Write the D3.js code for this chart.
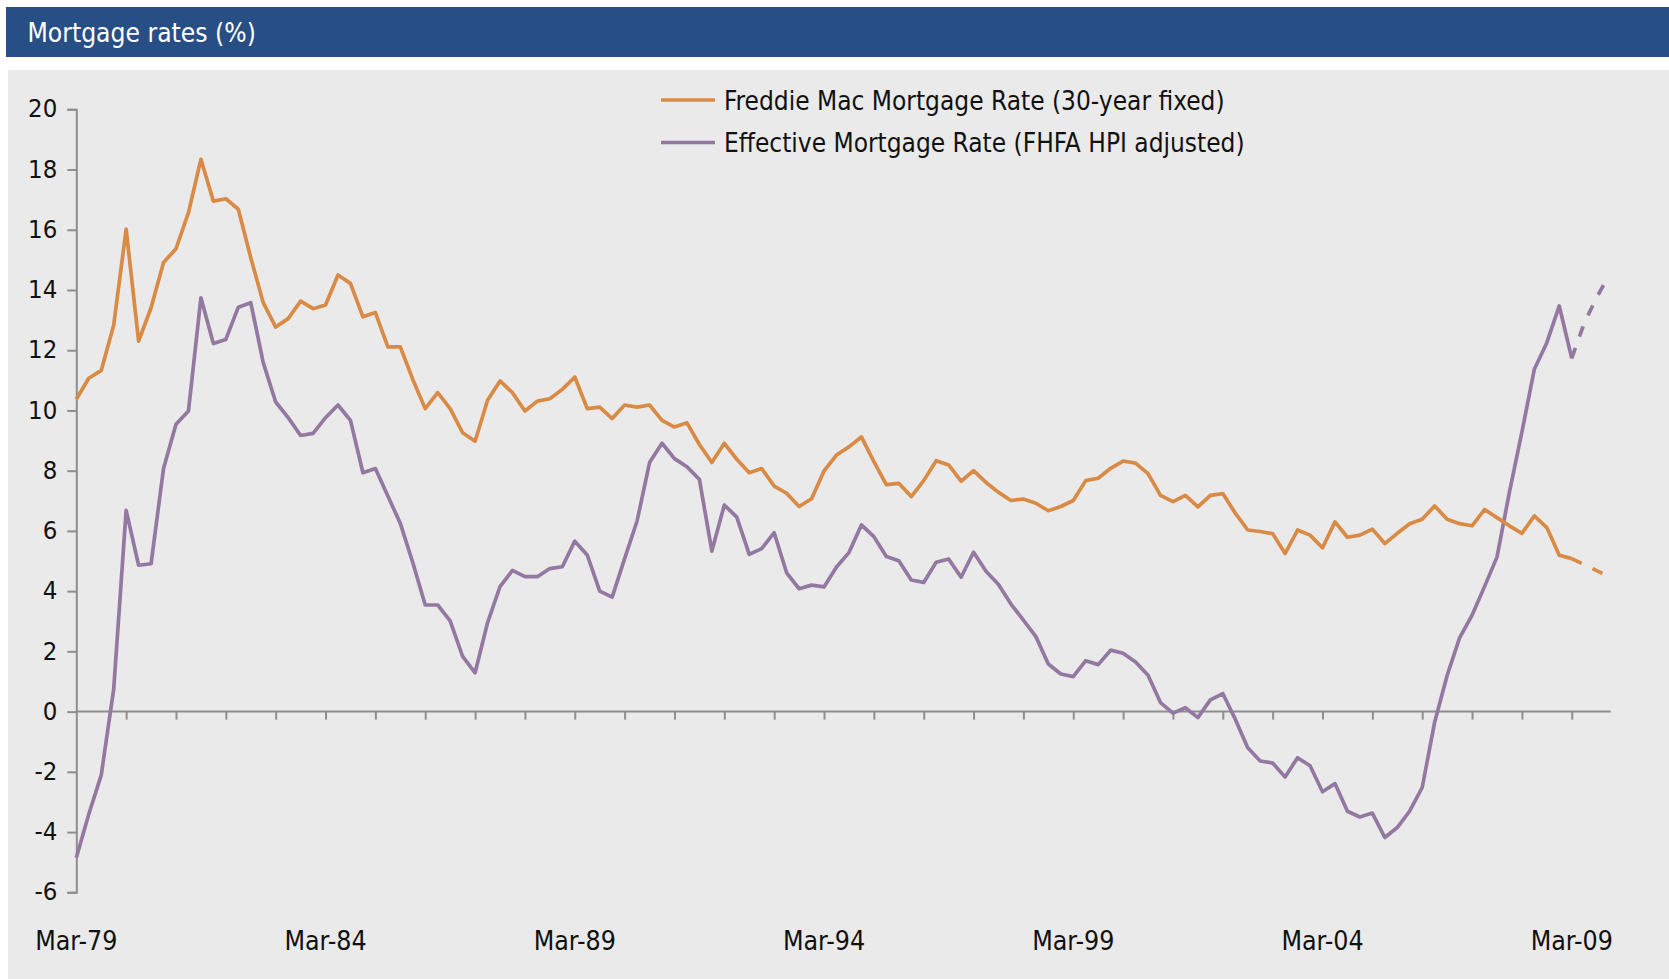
<!DOCTYPE html>
<html>
<head>
<meta charset="utf-8">
<script src="https://cdn.jsdelivr.net/npm/d3@7"></script>
<style>
  html, body { margin: 0; padding: 0; background: #ffffff; }
  svg { display: block; }
  text { font-family: "Liberation Sans Narrow", "DejaVu Sans Condensed", "Roboto Condensed", "Arial Narrow", sans-serif; }
</style>
</head>
<body>
<svg id="chart" width="1669" height="979"></svg>
<script>
// Quarterly categories, Mar-79 through Dec-09
const quarters = [];
for (let y = 1979; y <= 2009; y++) {
  for (const m of ["Mar", "Jun", "Sep", "Dec"]) {
    quarters.push(m + "-" + String(y % 100).padStart(2, "0"));
  }
}

// Freddie Mac 30-year fixed rate, Mar-79 .. Mar-09 (%)
const freddieMac = [
  10.37, 11.07, 11.33, 12.83, 16.02, 12.30, 13.41, 14.91, 15.37, 16.57,
  18.34, 16.95, 17.03, 16.68, 15.07, 13.58, 12.77, 13.05, 13.63, 13.38,
  13.50, 14.50, 14.22, 13.11, 13.25, 12.11, 12.11, 11.03, 10.06, 10.59,
  10.06, 9.26, 8.98, 10.34, 10.98, 10.59, 9.98, 10.31, 10.39, 10.70,
  11.11, 10.06, 10.11, 9.73, 10.18, 10.11, 10.18, 9.67, 9.45, 9.59,
  8.87, 8.27, 8.91, 8.38, 7.93, 8.07, 7.49, 7.25, 6.81, 7.07,
  7.99, 8.52, 8.79, 9.12, 8.30, 7.54, 7.58, 7.14, 7.67, 8.33,
  8.19, 7.65, 8.00, 7.61, 7.28, 7.01, 7.06, 6.92, 6.67, 6.81,
  7.01, 7.67, 7.75, 8.08, 8.32, 8.25, 7.90, 7.18, 6.97, 7.18,
  6.80, 7.18, 7.24, 6.59, 6.03, 5.98, 5.91, 5.25, 6.03, 5.86,
  5.44, 6.30, 5.79, 5.86, 6.06, 5.58, 5.92, 6.24, 6.39, 6.83,
  6.39, 6.24, 6.17, 6.71, 6.44, 6.17, 5.92, 6.50, 6.11, 5.19,
  5.08
];

// Effective mortgage rate (FHFA HPI adjusted), Mar-79 .. Mar-09 (%)
const effectiveRate = [
  -4.85, -3.41, -2.11, 0.74, 6.68, 4.86, 4.91, 8.07, 9.54, 9.98,
  13.74, 12.22, 12.36, 13.43, 13.58, 11.59, 10.28, 9.76, 9.17, 9.24,
  9.76, 10.18, 9.67, 7.93, 8.07, 7.16, 6.25, 4.95, 3.54, 3.54,
  3.01, 1.83, 1.29, 2.95, 4.15, 4.69, 4.48, 4.48, 4.75, 4.81,
  5.66, 5.20, 4.00, 3.80, 5.08, 6.33, 8.27, 8.91, 8.40, 8.13,
  7.71, 5.33, 6.86, 6.46, 5.22, 5.41, 5.94, 4.61, 4.08, 4.20,
  4.14, 4.80, 5.28, 6.20, 5.81, 5.15, 5.01, 4.37, 4.29, 4.96,
  5.07, 4.46, 5.29, 4.66, 4.22, 3.57, 3.04, 2.49, 1.58, 1.25,
  1.16, 1.69, 1.56, 2.04, 1.94, 1.65, 1.21, 0.30, -0.05, 0.13,
  -0.20, 0.39, 0.60, -0.25, -1.20, -1.64, -1.71, -2.17, -1.53, -1.80,
  -2.66, -2.39, -3.31, -3.50, -3.37, -4.18, -3.85, -3.30, -2.52, -0.35,
  1.20, 2.45, 3.20, 4.15, 5.13, 7.29, 9.28, 11.37, 12.25, 13.47,
  11.73
];

// Projected path, Mar-09 .. Dec-09 (%)
const freddieMacProjected = [5.08, 4.88, 4.68, 4.48];
const effectiveRateProjected = [11.73, 12.90, 13.75, 14.50];

const yTicks = [-6, -4, -2, 0, 2, 4, 6, 8, 10, 12, 14, 16, 18, 20];
const xTickLabels = ["Mar-79", "Mar-84", "Mar-89", "Mar-94", "Mar-99", "Mar-04", "Mar-09"];

const seriesNames = [
  "Freddie Mac Mortgage Rate (30-year fixed)",
  "Effective Mortgage Rate (FHFA HPI adjusted)"
];

const colors = { freddie: "#d98b45", effective: "#9379a1", axis: "#8e8e8e" };

const svg = d3.select("#chart");

// Header band
svg.append("rect").attr("x", 6).attr("y", 7).attr("width", 1663).attr("height", 50).attr("fill", "#284f85");
svg.append("text").attr("x", 27.5).attr("y", 41.5)
  .attr("fill", "#ffffff").attr("font-size", 26.2)
  .text("Mortgage rates (%)");

// Plot panel
svg.append("rect").attr("x", 8).attr("y", 70).attr("width", 1661).attr("height", 909).attr("fill", "#eaeaea");

const x = d3.scalePoint().domain(quarters).range([76.3, 76.3 + 123 * 12.462]).padding(0);
const y = d3.scaleLinear().domain([-6, 20]).range([892.3, 109.3]);

// Y axis
const yAxis = svg.append("g").attr("transform", "translate(76.3,0)")
  .call(d3.axisLeft(y).tickValues(yTicks).tickSize(9).tickPadding(10).tickFormat(d => String(d)));
yAxis.select(".domain").attr("stroke", colors.axis).attr("stroke-width", 2);
yAxis.selectAll(".tick line").attr("stroke", colors.axis).attr("stroke-width", 2);
yAxis.selectAll(".tick text").attr("fill", "#111").attr("font-size", 25.5)
  .attr("font-family", null).attr("dy", "0.3em");

// X axis along the zero line, minor ticks each March
const marchTicks = quarters.filter((q, i) => q.startsWith("Mar") && i > 0);
const xAxis = svg.append("g").attr("transform", `translate(0,${y(0)})`)
  .call(d3.axisBottom(x).tickValues(marchTicks).tickSize(8).tickSizeOuter(0).tickFormat(""));
xAxis.select(".domain").attr("stroke", colors.axis).attr("stroke-width", 2)
  .attr("d", `M76.3,0H1610.7`);
xAxis.selectAll(".tick line").attr("stroke", colors.axis).attr("stroke-width", 2);

// Date labels along the bottom
svg.append("g").selectAll("text").data(xTickLabels).join("text")
  .attr("x", d => x(d)).attr("y", 949.5)
  .attr("text-anchor", "middle").attr("font-size", 26.5).attr("fill", "#111")
  .text(d => d);

const line = d3.line().x(d => x(d.q)).y(d => y(d.v)).curve(d3.curveLinear);
const toPoints = (vals, offset) => vals.map((v, i) => ({ q: quarters[offset + i], v }));

svg.append("path").datum(toPoints(effectiveRate, 0)).attr("d", line)
  .attr("fill", "none").attr("stroke", colors.effective).attr("stroke-width", 3.7).attr("stroke-linejoin", "round");
svg.append("path").datum(toPoints(freddieMac, 0)).attr("d", line)
  .attr("fill", "none").attr("stroke", colors.freddie).attr("stroke-width", 3.7).attr("stroke-linejoin", "round");

svg.append("path").datum(toPoints(effectiveRateProjected, 120)).attr("d", line)
  .attr("fill", "none").attr("stroke", colors.effective).attr("stroke-width", 3.7).attr("stroke-dasharray", "11,12");
svg.append("path").datum(toPoints(freddieMacProjected, 120)).attr("d", line)
  .attr("fill", "none").attr("stroke", colors.freddie).attr("stroke-width", 3.7).attr("stroke-dasharray", "11,12");

// Legend
const legend = svg.append("g");
[colors.freddie, colors.effective].forEach((c, i) => {
  const ly = 100 + i * 42.5;
  legend.append("line").attr("x1", 661).attr("x2", 715).attr("y1", ly).attr("y2", ly)
    .attr("stroke", c).attr("stroke-width", 3.7);
  legend.append("text").attr("x", 724).attr("y", ly + 9.5).attr("font-size", 26)
    .attr("fill", "#111").text(seriesNames[i]);
});
</script>
</body>
</html>
